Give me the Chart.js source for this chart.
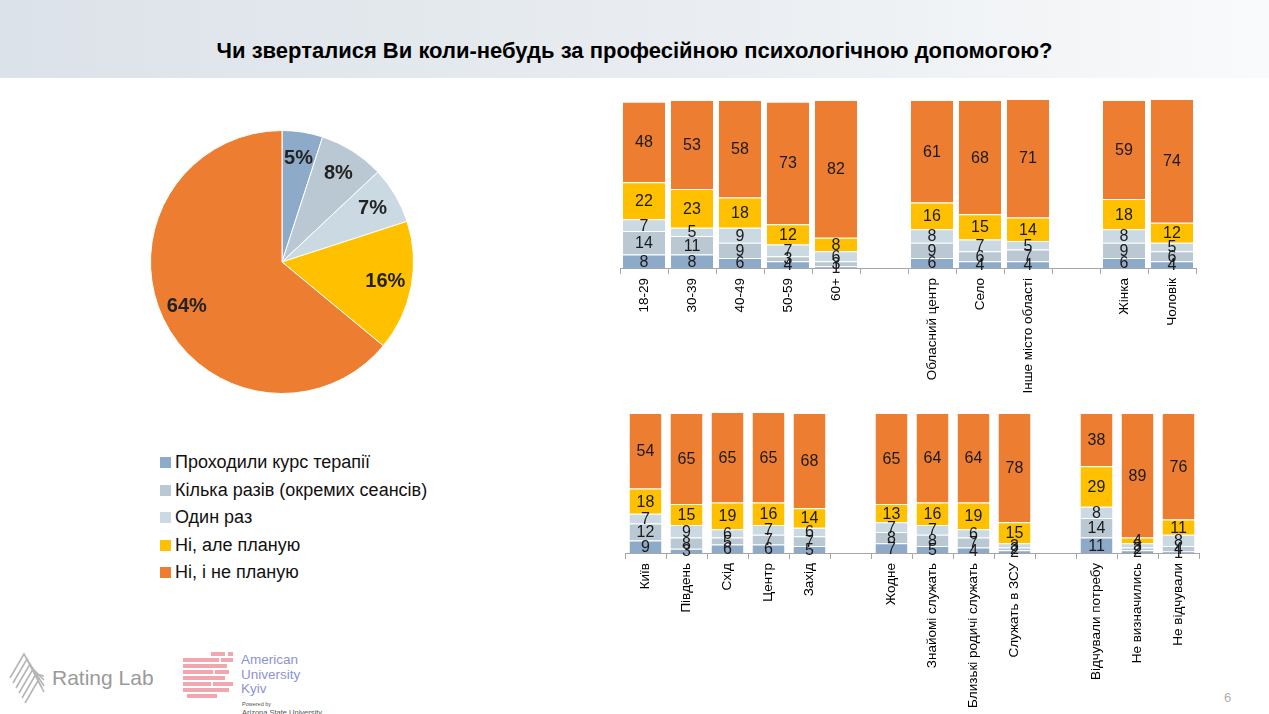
<!DOCTYPE html>
<html>
<head>
<meta charset="utf-8">
<script src="https://cdn.jsdelivr.net/npm/chart.js@4/dist/chart.umd.min.js"></script>
<style>
  html, body { margin:0; padding:0; width:1269px; height:714px; overflow:hidden; background:#fff; font-family:"Liberation Sans", Arial, sans-serif; }
  #head { position:absolute; left:0; top:0; width:1269px; height:78px; background:linear-gradient(to right, #dce2e9 0%, #e9edf1 55%, #f9fafb 100%); }
  #title { position:absolute; left:0; top:38px; width:1269px; text-align:center; font-size:22px; font-weight:bold; color:#000; }
  .box { position:absolute; }
  #legend { position:absolute; left:160px; top:450px; }
  .li { height:27.5px; line-height:24px; font-size:18px; color:#111; white-space:nowrap; }
  .li span { display:inline-block; width:11px; height:11px; margin-right:4px; vertical-align:0px; }
  #pnum { position:absolute; left:1224px; top:690px; font-size:13px; color:#b0b0b0; }
</style>
</head>
<body>
<div id="head"></div>
<div id="title">Чи зверталися Ви коли-небудь за професійною психологічною допомогою?</div>

<div class="box" style="left:150px; top:130px; width:264px; height:264px;"><canvas id="pie"></canvas></div>
<div id="legend"></div>

<div class="box" style="left:600px; top:88px; width:610px; height:305px;"><canvas id="top"></canvas></div>
<div class="box" style="left:600px; top:400px; width:620px; height:330px;"><canvas id="bottom"></canvas></div>

<!-- logos -->
<svg style="position:absolute; left:8px; top:650px;" width="40" height="58" viewBox="0 0 40 58">
  <g fill="none" stroke="#b5b5b5" stroke-width="1.6">
    <polyline points="2,28 16,4 34,38" />
    <polyline points="5,33 19,9 36,42" />
    <polyline points="8,38 22,14 36,36" />
    <polyline points="11,43 25,19 36,30" />
    <polyline points="14,48 28,24 36,26" />
    <polyline points="17,53 31,29" />
  </g>
</svg>
<div style="position:absolute; left:52px; top:666px; font-size:21px; color:#9a9a9a;">Rating Lab</div>
<div style="position:absolute; left:183px; top:652px; width:52px; height:48px;">
  <div style="position:absolute; left:28px; top:0; width:14px; height:4px; background:#f2a7b0;"></div>
  <div style="position:absolute; left:45px; top:0; width:5px; height:4px; background:#f2a7b0;"></div>
  <div style="position:absolute; left:0; top:6px; width:36px; height:4px; background:#f2a7b0;"></div>
  <div style="position:absolute; left:38px; top:6px; width:12px; height:4px; background:#f2a7b0;"></div>
  <div style="position:absolute; left:0; top:12px; width:44px; height:4px; background:#f2a7b0;"></div>
  <div style="position:absolute; left:0; top:18px; width:30px; height:4px; background:#f2a7b0;"></div>
  <div style="position:absolute; left:32px; top:18px; width:14px; height:4px; background:#f2a7b0;"></div>
  <div style="position:absolute; left:0; top:24px; width:42px; height:4px; background:#f2a7b0;"></div>
  <div style="position:absolute; left:0; top:30px; width:28px; height:4px; background:#f2a7b0;"></div>
  <div style="position:absolute; left:30px; top:30px; width:20px; height:4px; background:#f2a7b0;"></div>
  <div style="position:absolute; left:0; top:36px; width:46px; height:4px; background:#f2a7b0;"></div>
  <div style="position:absolute; left:4px; top:42px; width:30px; height:4px; background:#f2a7b0;"></div>
</div>
<div style="position:absolute; left:241px; top:653px; font-size:13.5px; line-height:14.5px; color:#8c93d2;">American<br>University<br>Kyiv</div>
<div style="position:absolute; left:242px; top:701px; font-size:5.5px; color:#555;">Powered by</div>
<div style="position:absolute; left:242px; top:708px; font-size:7.5px; color:#555;">Arizona State University</div>
<div id="pnum">6</div>

<script>
// series shared by all charts
const seriesNames = ["Проходили курс терапії", "Кілька разів (окремих сеансів)", "Один раз", "Ні, але планую", "Ні, і не планую"];
const seriesColors = ["#8eaac9", "#bac8d3", "#cbd9e3", "#ffc000", "#ed7d31"];

// pie, %
const pieValues = [5, 8, 7, 16, 64];

// top bar chart ('' = spacer)
const topCategories = ["18-29", "30-39", "40-49", "50-59", "60+", "", "Обласний центр", "Село", "Інше місто області", "", "Жінка", "Чоловік"];
const topTherapy = [8, 8, 6, 4, 1, null, 6, 4, 4, null, 6, 4];
const topSeveral = [14, 11, 9, 3, 3, null, 9, 6, 7, null, 9, 6];
const topOnce    = [7, 5, 9, 7, 6, null, 8, 7, 5, null, 8, 5];
const topPlan    = [22, 23, 18, 12, 8, null, 16, 15, 14, null, 18, 12];
const topNoPlan  = [48, 53, 58, 73, 82, null, 61, 68, 71, null, 59, 74];

// bottom bar chart
const botCategories = ["Київ", "Південь", "Схід", "Центр", "Захід", "", "Жодне", "Знайомі служать", "Близькі родичі служать", "Служать в ЗСУ", "", "Відчували потребу", "Не визначились", "Не відчували"];
const botTherapy = [9, 3, 6, 6, 5, null, 7, 5, 4, 2, null, 11, 2, 1];
const botSeveral = [12, 8, 5, 7, 7, null, 8, 8, 7, 2, null, 14, 2, 4];
const botOnce    = [7, 9, 6, 7, 6, null, 7, 7, 6, 3, null, 8, 3, 8];
const botPlan    = [18, 15, 19, 16, 14, null, 13, 16, 19, 15, null, 29, 4, 11];
const botNoPlan  = [54, 65, 65, 65, 68, null, 65, 64, 64, 78, null, 38, 89, 76];

const FONT = "'Liberation Sans', Arial, sans-serif";

// legend
let lg = document.getElementById("legend");
for (let i = 0; i < seriesNames.length; i++) {
  let d = document.createElement("div");
  d.className = "li";
  d.innerHTML = '<span style="background:' + seriesColors[i] + '"></span>' + seriesNames[i];
  lg.appendChild(d);
}

// value labels in the middle of every bar segment
const barLabels = {
  id: "barLabels",
  afterDatasetsDraw(chart) {
    const ctx = chart.ctx;
    ctx.save();
    ctx.font = "16px " + FONT;
    ctx.fillStyle = "#1a1a1a";
    ctx.textAlign = "center";
    ctx.textBaseline = "middle";
    chart.data.datasets.forEach((ds, i) => {
      chart.getDatasetMeta(i).data.forEach((el, j) => {
        const v = ds.data[j];
        if (v == null || v <= 0) return;
        ctx.fillText(String(v), el.x, (el.y + el.base) / 2 + 1);
      });
    });
    ctx.restore();
  }
};

const pieLabels = {
  id: "pieLabels",
  afterDatasetsDraw(chart) {
    const ctx = chart.ctx;
    ctx.save();
    ctx.font = "bold 20px " + FONT;
    ctx.fillStyle = "#222";
    ctx.textAlign = "center";
    ctx.textBaseline = "middle";
    chart.getDatasetMeta(0).data.forEach((arc, i) => {
      const mid = (arc.startAngle + arc.endAngle) / 2;
      const r = arc.outerRadius * 0.8;
      ctx.fillText(pieValues[i] + "%", arc.x + Math.cos(mid) * r, arc.y + Math.sin(mid) * r);
    });
    ctx.restore();
  }
};

new Chart(document.getElementById("pie"), {
  type: "pie",
  data: {
    labels: seriesNames,
    datasets: [{ data: pieValues, backgroundColor: seriesColors, borderColor: "#fff", borderWidth: 1 }]
  },
  options: {
    responsive: true, maintainAspectRatio: false, animation: false,
    plugins: { legend: { display: false }, tooltip: { enabled: false } }
  },
  plugins: [pieLabels]
});

function makeBars(id, cats, rows, barPct, pad, scaleH) {
  new Chart(document.getElementById(id), {
    type: "bar",
    data: {
      labels: cats,
      datasets: rows.map((r, i) => ({
        label: seriesNames[i],
        data: r,
        backgroundColor: seriesColors[i],
        borderColor: "rgba(255,255,255,0.7)",
        borderWidth: { top: 1 },
        borderSkipped: false,
        categoryPercentage: 1,
        barPercentage: barPct
      }))
    },
    options: {
      responsive: true, maintainAspectRatio: false, animation: false,
      layout: { padding: pad },
      plugins: { legend: { display: false }, tooltip: { enabled: false } },
      scales: {
        x: {
          stacked: true,
          afterFit: s => { s.height = scaleH; },
          grid: { display: true, drawOnChartArea: false, drawTicks: true, tickLength: 6, color: "#a6a6a6", offset: true },
          border: { display: true, color: "#a6a6a6" },
          ticks: { autoSkip: false, minRotation: 90, maxRotation: 90, padding: 4, color: "#000", font: { family: FONT, size: 13.5 } }
        },
        y: { stacked: true, display: false, min: 0, max: 100 }
      }
    },
    plugins: [barLabels]
  });
}

makeBars("top", topCategories, [topTherapy, topSeveral, topOnce, topPlan, topNoPlan], 0.88,
  { left: 20, right: 14, top: 12, bottom: 0 }, 125);
makeBars("bottom", botCategories, [botTherapy, botSeveral, botOnce, botPlan, botNoPlan], 0.78,
  { left: 25, right: 21, top: 13, bottom: 0 }, 177);
</script>
</body>
</html>
